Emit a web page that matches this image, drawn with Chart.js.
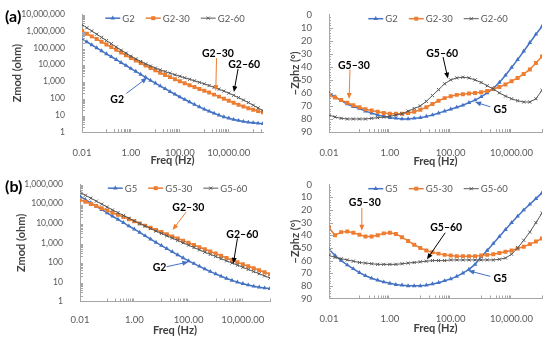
<!DOCTYPE html>
<html>
<head>
<meta charset="utf-8">
<script src="https://cdn.jsdelivr.net/npm/chart.js@4.4.1/dist/chart.umd.min.js"></script>
<style>
  body { margin: 0; background: #fff; }
  #wrap { position: relative; width: 550px; height: 343px; overflow: hidden; font-family: Lato, "Liberation Sans", sans-serif; }
  canvas { position: absolute; }
  .tag { position: absolute; font-weight: bold; font-size: 16px; line-height: 16px; color: #000; }
</style>
</head>
<body>
<div id="wrap">
  <canvas id="za" width="275" height="170" style="left:0;top:0"></canvas>
  <canvas id="pa" width="275" height="170" style="left:275px;top:0"></canvas>
  <canvas id="zb" width="275" height="173" style="left:0;top:170px"></canvas>
  <canvas id="pb" width="275" height="173" style="left:275px;top:170px"></canvas>
  <div class="tag" style="left:5px;top:8px">(a)</div>
  <div class="tag" style="left:5px;top:178px">(b)</div>
</div>
<script>
// frequencies (Hz), 5 points per decade
const freq = [0.01, 0.0158, 0.0251, 0.0398, 0.0631, 0.1, 0.158, 0.251, 0.398, 0.631,
  1, 1.58, 2.51, 3.98, 6.31, 10, 15.8, 25.1, 39.8, 63.1,
  100, 158, 251, 398, 631, 1000, 1580, 2510, 3980, 6310,
  10000, 15800, 25100, 39800, 63100, 100000];
const freqA = freq.concat([158000, 251000]); // panel (a) Zmod runs a bit further

const freqTicks = [0.01, 1, 100, 10000];
const zmodTicksA = [1, 10, 100, 1000, 10000, 100000, 1000000, 10000000];
const zmodTicksB = [1, 10, 100, 1000, 10000, 100000, 1000000];

// (a) Zmod (ohm)
const zG2 = [331000, 224000, 148000, 100000, 66100, 43700, 29500, 20000, 13200, 8910,
  5890, 3980, 2630, 1780, 1170, 794, 537, 372, 251, 174,
  120, 85.1, 60.3, 42.7, 30.9, 22.4, 17.0, 12.9, 10.0, 7.94,
  6.61, 5.50, 4.79, 4.17, 3.80, 3.55, 3.31, 3.16];
const zG2_30 = [1000000, 692000, 479000, 331000, 229000, 158000, 110000, 75900, 52500, 36300,
  25100, 17800, 12600, 8910, 6310, 4570, 3310, 2450, 1820, 1350,
  1020, 794, 603, 468, 363, 282, 219, 166, 126, 95.5,
  72.4, 55.0, 41.7, 32.4, 25.7, 20.9, 17.4, 14.8];
const zG2_60 = [2400000, 1550000, 1000000, 646000, 417000, 269000, 174000, 112000, 72400, 47900,
  31600, 21900, 15500, 11200, 8320, 6310, 4900, 3890, 3090, 2510,
  2040, 1660, 1350, 1100, 891, 724, 575, 447, 347, 269,
  204, 151, 110, 79.4, 56.2, 38.9, 26.9, 18.6];

// (a) -Zphz (deg)
const pG2 = [60, 63, 66, 68.5, 70.5, 72, 74, 75.5, 77, 78,
  79, 79.5, 80, 80, 79.5, 79, 78, 77, 75.5, 74,
  72.5, 71, 69.5, 67.5, 65.5, 63, 60, 56.5, 52, 46.5,
  40.5, 34.5, 28, 21.5, 15, 9];
const pG2_30 = [62, 63.5, 65.5, 67.5, 69.5, 71, 72.5, 73.5, 74.5, 75.5,
  76, 76, 76, 75.5, 74.5, 73, 71, 68.5, 66, 64,
  62.5, 61.5, 61, 60.5, 60, 59.5, 58.5, 57, 55.5, 53.5,
  51, 48.5, 45.5, 42, 37, 32];
const pG2_60 = [77, 78.5, 79.5, 80, 80, 80, 80, 79.5, 79, 78.5,
  78, 77, 76, 74, 72, 70, 66.5, 62, 57.5, 53,
  50, 48.5, 48, 48.5, 50, 52, 54.5, 57, 60, 62.5,
  64.5, 66, 67, 67, 64.5, 58];

// (b) Zmod (ohm)
const zG5 = [245000, 162000, 110000, 74100, 50100, 33900, 22900, 15800, 10700, 7240,
  5010, 3390, 2290, 1550, 1050, 724, 501, 347, 240, 170,
  120, 87.1, 63.1, 45.7, 33.9, 25.7, 19.5, 15.1, 12.0, 9.77,
  8.13, 6.92, 6.03, 5.37, 4.90, 4.57];
const zG5_30 = [158000, 126000, 97700, 75900, 58900, 45700, 34700, 26900, 20900, 16200,
  12600, 9770, 7590, 5890, 4570, 3550, 2750, 2140, 1660, 1290,
  1000, 776, 603, 468, 363, 282, 219, 170, 132, 102,
  79.4, 63.1, 50.1, 39.8, 31.6, 25.1];
const zG5_60 = [380000, 269000, 191000, 135000, 95500, 67600, 47900, 34700, 25100, 18200,
  13200, 9770, 7240, 5370, 3980, 3020, 2290, 1740, 1320, 1000,
  759, 575, 437, 331, 257, 200, 155, 120, 93.3, 72.4,
  56.2, 43.7, 33.9, 26.3, 20.4, 15.8];

// (b) -Zphz (deg)
const pG5 = [51, 56, 60, 63.5, 66.5, 69.5, 72, 74, 75.5, 77,
  78, 79, 79.5, 80, 80, 80, 79.5, 78.5, 77.5, 76,
  74.5, 72.5, 70, 67, 63, 57, 52, 46.5, 41, 35.5,
  30, 25, 20, 15.5, 11, 6.5];
const pG5_30 = [34, 40, 37.5, 37, 38, 39.5, 41, 41, 40, 38.5,
  38, 39, 41.5, 44.5, 47.5, 50, 52, 53.5, 54.5, 55.5,
  56, 56.5, 56.5, 56.5, 56.5, 56, 55.5, 55, 54, 53,
  52, 50.5, 49, 47, 45, 42.5];
const pG5_60 = [56, 57.5, 58.5, 59.5, 60.5, 61.5, 62, 62.5, 63, 63,
  63, 63, 62.5, 62, 61.5, 61, 60.5, 60, 60, 60,
  59.5, 59.5, 59.5, 59.5, 59.5, 59.5, 59.5, 59.5, 59, 58,
  55, 50, 44, 37.5, 30, 22.5];

// callouts: text position, arrow start, arrow tip (data coordinates)
const notesZA = [
  { text: 'G2', color: '#4472C4', at: [0.275, 87], from: [0.65, 195], to: [4.6, 1660] },
  { text: 'G2\u201330', color: '#ED7D31', at: [3600, 42700], from: [3160, 24500], to: [2950, 270] },
  { text: 'G2\u201360', color: '#000000', at: [42700, 9550], from: [24000, 5620], to: [16200, 234] }
];
const notesPA = [
  { text: 'G5\u201360', color: '#000000', at: [52.5, 29.5], from: [56, 32.5], to: [81, 49] },
  { text: 'G5\u201330', color: '#ED7D31', at: [0.066, 39.2], from: [0.049, 42.2], to: [0.0457, 64.7] },
  { text: 'G5', color: '#4472C4', at: [4270, 72.6], from: [2000, 70.7], to: [631, 67] }
];
const notesZB = [
  { text: 'G2\u201330', color: '#ED7D31', at: [98, 61600], from: [81, 37000], to: [25.7, 4570] },
  { text: 'G2\u201360', color: '#000000', at: [9550, 2630], from: [6310, 1700], to: [4470, 85] },
  { text: 'G2', color: '#4472C4', at: [8.5, 55], from: [15.5, 60], to: [98, 105] }
];
const notesPB = [
  { text: 'G5\u201330', color: '#ED7D31', at: [0.15, 14.4], from: [0.12, 18.5], to: [0.12, 36.5] },
  { text: 'G5\u201360', color: '#000000', at: [71, 34.3], from: [66, 38], to: [16.6, 59] },
  { text: 'G5', color: '#4472C4', at: [4270, 74.4], from: [2000, 72.5], to: [380, 68] }
];

const FONT = 'Lato';
const axisColor = '#a6a6a6';
const labelColor = '#595959';
const titleColor = '#404040';

const blue = { borderColor: '#4472C4', backgroundColor: '#4472C4', borderWidth: 1.5,
  pointStyle: 'triangle', pointRadius: 2.6, pointBorderWidth: 0, pointBackgroundColor: '#4472C4', order: 2 };
const orange = { borderColor: '#ED7D31', backgroundColor: '#ED7D31', borderWidth: 1.5,
  pointStyle: 'rect', pointRadius: 2.8, pointBorderWidth: 0, pointBackgroundColor: '#ED7D31', order: 1 };
const gray = { borderColor: '#595959', backgroundColor: '#595959', borderWidth: 1,
  pointStyle: 'crossRot', pointRadius: 2.2, pointBorderWidth: 1, pointBorderColor: '#595959', pointBackgroundColor: '#595959', order: 0 };

function series(label, xs, ys, style) {
  return Object.assign({ label: label, data: xs.map((f, i) => ({ x: f, y: ys[i] })) }, style);
}

// small tick marks pointing into the plot, like the spreadsheet axes
const tickMarks = {
  id: 'tickMarks',
  afterDatasetsDraw(chart) {
    const { ctx, chartArea: a, scales: { x, y } } = chart;
    ctx.save();
    ctx.strokeStyle = axisColor;
    ctx.lineWidth = 1;
    ctx.beginPath();
    for (let e = -2; e < 6; e += 2) {
      for (let m = 1; m <= 9; m++) {
        const v = m * Math.pow(10, e + 1);
        if (v > x.max) continue;
        const px = Math.round(x.getPixelForValue(v)) + 0.5;
        ctx.moveTo(px, a.bottom);
        ctx.lineTo(px, a.bottom - 3);
      }
    }
    if (y.type === 'logarithmic') {
      for (let e = 0; e < 7; e++) {
        for (let m = 2; m <= 9; m++) {
          const v = m * Math.pow(10, e);
          if (v > y.max) continue;
          const py = Math.round(y.getPixelForValue(v)) + 0.5;
          ctx.moveTo(a.left, py);
          ctx.lineTo(a.left + 3, py);
        }
      }
    } else {
      for (let v = 2; v < 90; v += 2) {
        const py = Math.round(y.getPixelForValue(v)) + 0.5;
        ctx.moveTo(a.left, py);
        ctx.lineTo(a.left + (v % 10 === 0 ? 4 : 2), py);
      }
    }
    ctx.stroke();
    ctx.restore();
  }
};

// legend drawn inside the top of the plot
const miniLegend = {
  id: 'miniLegend',
  afterDraw(chart) {
    const { ctx, chartArea: a } = chart;
    ctx.save();
    ctx.font = '9.5px ' + FONT;
    const sets = chart.data.datasets;
    const widths = sets.map(d => 18 + ctx.measureText(d.label).width);
    const gap = 10;
    const total = widths.reduce((s, w) => s + w, 0) + gap * (sets.length - 1);
    let x = (a.left + a.right) / 2 - total / 2 + 3;
    const y = a.top + 4;
    sets.forEach((d, i) => {
      ctx.strokeStyle = d.borderColor;
      ctx.lineWidth = d.borderWidth;
      ctx.beginPath();
      ctx.moveTo(x, y);
      ctx.lineTo(x + 15, y);
      ctx.stroke();
      ctx.fillStyle = d.pointBackgroundColor;
      ctx.strokeStyle = d.pointBorderColor || d.borderColor;
      ctx.lineWidth = d.pointBorderWidth;
      Chart.helpers.drawPoint(ctx, { pointStyle: d.pointStyle, radius: d.pointRadius, borderWidth: d.pointBorderWidth, rotation: 0 }, x + 7.5, y);
      ctx.fillStyle = labelColor;
      ctx.textAlign = 'left';
      ctx.textBaseline = 'middle';
      ctx.fillText(d.label, x + 17, y + 0.5);
      x += widths[i] + gap;
    });
    ctx.restore();
  }
};

function callouts(notes) {
  return {
    id: 'callouts',
    afterDraw(chart) {
      const { ctx, scales: { x, y } } = chart;
      ctx.save();
      notes.forEach(n => {
        const x0 = x.getPixelForValue(n.from[0]), y0 = y.getPixelForValue(n.from[1]);
        const x1 = x.getPixelForValue(n.to[0]), y1 = y.getPixelForValue(n.to[1]);
        const ang = Math.atan2(y1 - y0, x1 - x0);
        ctx.strokeStyle = n.color;
        ctx.fillStyle = n.color;
        ctx.lineWidth = 1;
        ctx.beginPath();
        ctx.moveTo(x0, y0);
        ctx.lineTo(x1 - 4 * Math.cos(ang), y1 - 4 * Math.sin(ang));
        ctx.stroke();
        ctx.beginPath();
        ctx.moveTo(x1, y1);
        ctx.lineTo(x1 - 6 * Math.cos(ang) + 2.5 * Math.sin(ang), y1 - 6 * Math.sin(ang) - 2.5 * Math.cos(ang));
        ctx.lineTo(x1 - 6 * Math.cos(ang) - 2.5 * Math.sin(ang), y1 - 6 * Math.sin(ang) + 2.5 * Math.cos(ang));
        ctx.closePath();
        ctx.fill();
        ctx.fillStyle = '#000';
        ctx.font = 'bold 10.5px ' + FONT;
        ctx.textAlign = 'center';
        ctx.textBaseline = 'middle';
        ctx.fillText(n.text, x.getPixelForValue(n.at[0]), y.getPixelForValue(n.at[1]));
      });
      ctx.restore();
    }
  };
}

function xScale(max, height, tickPad, titlePad) {
  return {
    type: 'logarithmic', min: 0.01, max: max,
    afterBuildTicks: s => { s.ticks = freqTicks.map(v => ({ value: v })); },
    afterFit: s => { s.height = height; },
    ticks: { autoSkip: false, maxRotation: 0, padding: tickPad, color: labelColor, font: { family: FONT, size: 9.5 },
      callback: v => Number(v).toLocaleString('en-US', { minimumFractionDigits: 2, maximumFractionDigits: 2 }) },
    grid: { display: false },
    border: { color: axisColor },
    title: { display: true, text: 'Freq (Hz)', color: titleColor, font: { family: FONT, size: 11, weight: 'bold' },
      padding: { top: 0, bottom: titlePad } }
  };
}

function zScale(max, ticksArr, width, titlePad) {
  return {
    type: 'logarithmic', min: 1, max: max,
    afterBuildTicks: s => { s.ticks = ticksArr.map(v => ({ value: v })); },
    afterFit: s => { s.width = width; },
    ticks: { autoSkip: false, padding: 9, color: labelColor, font: { family: FONT, size: 8.6 },
      callback: v => Number(v).toLocaleString('en-US') },
    grid: { display: false },
    border: { color: axisColor },
    title: { display: true, text: 'Zmod (ohm)', color: titleColor, font: { family: FONT, size: 11, weight: 'bold' },
      padding: { top: titlePad, bottom: 0 } }
  };
}

function pScale(width, titlePad) {
  return {
    type: 'linear', min: 0, max: 90, reverse: true,
    afterFit: s => { s.width = width; },
    ticks: { autoSkip: false, stepSize: 10, padding: 9, color: labelColor, font: { family: FONT, size: 9.5 } },
    grid: { display: false },
    border: { color: axisColor },
    title: { display: true, text: '\u2212Zphz (\u00b0)', color: titleColor, font: { family: FONT, size: 11, weight: 'bold' },
      padding: { top: titlePad, bottom: 0 } }
  };
}

function makeChart(id, datasets, x, y, pad, notes) {
  return new Chart(document.getElementById(id), {
    type: 'line',
    data: { datasets: datasets },
    options: {
      responsive: false,
      animation: false,
      devicePixelRatio: 1,
      layout: { padding: pad },
      plugins: { legend: { display: false }, tooltip: { enabled: false } },
      scales: { x: x, y: y }
    },
    plugins: [tickMarks, miniLegend, callouts(notes)]
  });
}

makeChart('za', [
  series('G2', freqA, zG2, blue),
  series('G2-30', freqA, zG2_30, orange),
  series('G2-60', freqA, zG2_60, gray)
], xScale(251000, 38, 7, 3), zScale(10000000, zmodTicksA, 82, 11), { left: 0, right: 12, top: 12, bottom: 0 }, notesZA);

makeChart('pa', [
  series('G2', freq, pG2, blue),
  series('G2-30', freq, pG2_30, orange),
  series('G2-60', freq, pG2_60, gray)
], xScale(100000, 38, 7, 2), pScale(54, 14), { left: 0, right: 8, top: 12, bottom: 0 }, notesPA);

makeChart('zb', [
  series('G5', freq, zG5, blue),
  series('G5-30', freq, zG5_30, orange),
  series('G5-60', freq, zG5_60, gray)
], xScale(100000, 41.5, 5, 6), zScale(1000000, zmodTicksB, 80, 15), { left: 0, right: 2, top: 7, bottom: 0 }, notesZB);

makeChart('pb', [
  series('G5', freq, pG5, blue),
  series('G5-30', freq, pG5_30, orange),
  series('G5-60', freq, pG5_60, gray)
], xScale(100000, 44.5, 7, 8), pScale(54, 14), { left: 0, right: 8, top: 8, bottom: 0 }, notesPB);
</script>
</body>
</html>
